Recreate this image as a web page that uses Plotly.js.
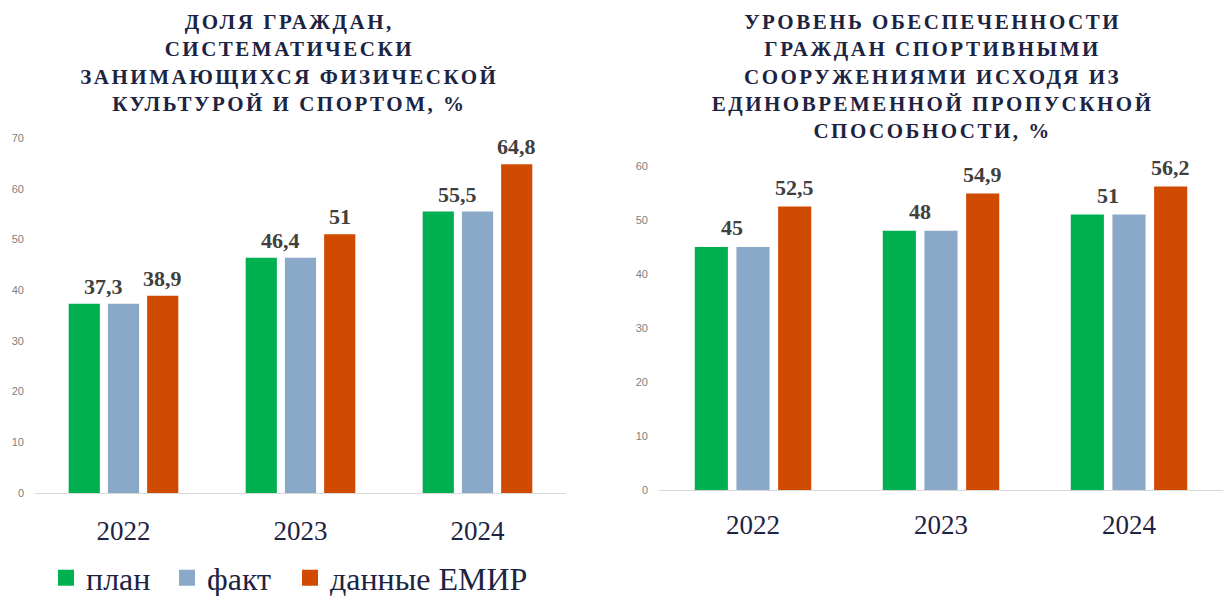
<!DOCTYPE html>
<html><head><meta charset="utf-8">
<script src="https://cdn.plot.ly/plotly-3.0.1.min.js"></script>
<style>
html,body{margin:0;padding:0;background:#fff;}
#chart{width:1229px;height:596px;}
</style>
</head><body><div id="chart"></div>
<script>
const years = ['2022','2023','2024'];
const seriesNames = ['план','факт','данные ЕМИР'];
const colors = ['#00b050','#8aa9c8','#d04a02'];

// Chart 1
const sportPlan = [37.3, 46.4, 55.5];
const sportFact = [37.3, 46.4, 55.5];
const sportEmir = [38.9, 51, 64.8];
// Chart 2
const facPlan = [45, 48, 51];
const facFact = [45, 48, 51];
const facEmir = [52.5, 54.9, 56.2];

const title1 = 'ДОЛЯ ГРАЖДАН,<br>СИСТЕМАТИЧЕСКИ<br>ЗАНИМАЮЩИХСЯ ФИЗИЧЕСКОЙ<br>КУЛЬТУРОЙ И СПОРТОМ, %';
const title2 = 'УРОВЕНЬ ОБЕСПЕЧЕННОСТИ<br>ГРАЖДАН СПОРТИВНЫМИ<br>СООРУЖЕНИЯМИ ИСХОДЯ ИЗ<br>ЕДИНОВРЕМЕННОЙ ПРОПУСКНОЙ<br>СПОСОБНОСТИ, %';

const fmt = v => String(v).replace('.', ',');
const bargap = 0.335, bargroupgap = 0.205;
const slot = (1 - bargap) / 3;

const W = 1229, H = 596;
const px = x => x / W, py = y => 1 - y / H;

function bars(vals, idx, xa, ya) {
  return {type:'bar', x: years, y: vals, name: seriesNames[idx], xaxis: xa, yaxis: ya,
    marker:{color: colors[idx], line:{width:0}}, showlegend: false, hoverinfo:'skip'};
}
const legendWidths = [76, 78, 200];
function legendEntry(idx) {
  return {type:'scatter', mode:'markers', x:[null], y:[null], name: seriesNames[idx], xaxis:'x', yaxis:'y',
    marker:{symbol:'square', size:16, color: colors[idx]}, showlegend:true, legendwidth: legendWidths[idx], hoverinfo:'skip'};
}

const data = [
  bars(sportPlan,0,'x','y'), bars(sportFact,1,'x','y'), bars(sportEmir,2,'x','y'),
  bars(facPlan,0,'x2','y2'), bars(facFact,1,'x2','y2'), bars(facEmir,2,'x2','y2'),
  legendEntry(0), legendEntry(1), legendEntry(2)
];

const labelFont = {family:'Liberation Serif, serif', size:22, color:'#404040'};
const annotations = [];
function addLabels(plan, emir, xr, yr, shift) {
  plan.forEach((v,i) => annotations.push({xref:xr, yref:yr, x: i - slot/2, y: v, text: '<b>'+fmt(v)+'</b>',
    showarrow:false, yanchor:'bottom', yshift: shift, font: labelFont}));
  emir.forEach((v,i) => annotations.push({xref:xr, yref:yr, x: i + slot, y: v, text: '<b>'+fmt(v)+'</b>',
    showarrow:false, yanchor:'bottom', yshift: shift, font: labelFont}));
}
const titleFont = {family:'Liberation Serif, serif', size:21, color:'#1c2442'};
annotations.push({xref:'paper', yref:'paper', x: px(289), y: py(8), yanchor:'top', xanchor:'center', align:'center',
  text:'<b>'+title1+'</b>', showarrow:false, font: titleFont});
annotations.push({xref:'paper', yref:'paper', x: px(932), y: py(8), yanchor:'top', xanchor:'center', align:'center',
  text:'<b>'+title2+'</b>', showarrow:false, font: titleFont});
addLabels(sportPlan, sportEmir, 'x', 'y', 3);
addLabels(facPlan, facEmir, 'x2', 'y2', 5);

const catFont = {family:'Liberation Serif, serif', size:27, color:'#1c2442'};
const yTickFont = {family:'Liberation Sans Narrow, Liberation Sans, sans-serif', size:11, color:'#808080'};

const layout = {
  width: W, height: H,
  margin:{l:0,r:0,t:0,b:0, autoexpand:false},
  paper_bgcolor:'#fff', plot_bgcolor:'#fff',
  barmode:'group', bargap: bargap, bargroupgap: bargroupgap,
  xaxis:{domain:[px(35), px(566)], type:'category', showgrid:false, zeroline:false, showline:true,
    linecolor:'#d9d9d9', linewidth:1, ticks:'', tickfont: catFont, ticklabelstandoff: 14, fixedrange:true},
  yaxis:{domain:[py(493), py(138)], range:[0,70], dtick:10, showgrid:false, zeroline:false, showline:false,
    ticks:'', tickfont: yTickFont, ticklabelstandoff: 10, fixedrange:true},
  xaxis2:{domain:[px(659), px(1223)], type:'category', anchor:'y2', showgrid:false, zeroline:false, showline:true,
    linecolor:'#d9d9d9', linewidth:1, ticks:'', tickfont: catFont, ticklabelstandoff: 11, fixedrange:true},
  yaxis2:{domain:[py(490), py(166)], range:[0,60], dtick:10, anchor:'x2', showgrid:false, zeroline:false, showline:false,
    ticks:'', tickfont: yTickFont, ticklabelstandoff: 10, fixedrange:true},
  showlegend:true,
  legend:{orientation:'h', x: px(46), xanchor:'left', y: py(578), yanchor:'middle',
    font:{family:'Liberation Serif, serif', size:32, color:'#1c2442'}, traceorder:'normal', itemclick:false,
    bgcolor:'rgba(0,0,0,0)'},
  annotations: annotations
};

Plotly.newPlot('chart', data, layout, {displayModeBar:false, staticPlot:true}).then(() => {
  document.querySelectorAll('.annotation').forEach(g => {
    const t = g.querySelector('text');
    if (t && /[А-Я]{4,}/.test(t.textContent)) t.style.letterSpacing = '2.5px';
  });
});
</script>
</body></html>
